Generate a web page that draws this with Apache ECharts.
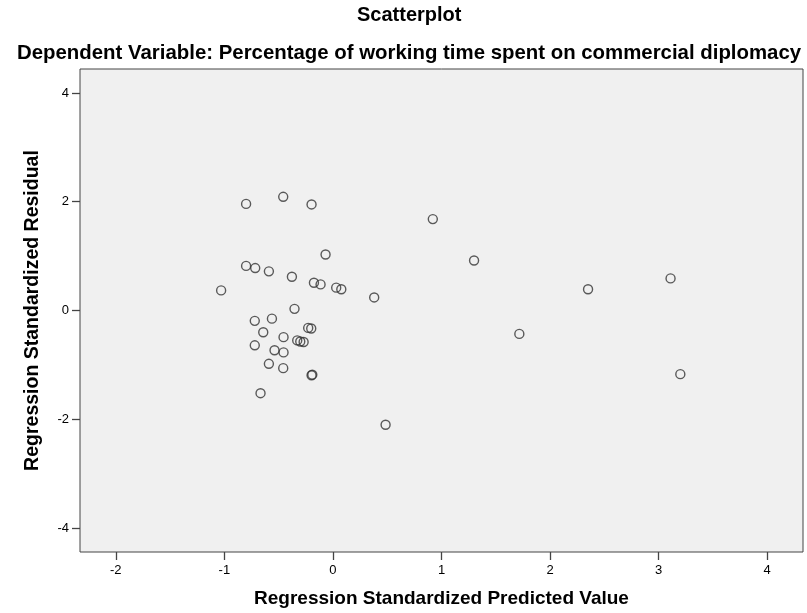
<!DOCTYPE html>
<html>
<head>
<meta charset="utf-8">
<script src="https://cdn.jsdelivr.net/npm/echarts@6/dist/echarts.min.js"></script>
<style>html,body{margin:0;padding:0;background:#fff;}#c{width:807px;height:613px;}</style>
</head>
<body>
<div id="c"></div>
<script>
const predicted = [-0.80,-0.458,-0.197,-0.068,-0.80,-0.716,-0.59,-0.378,-0.175,-0.114,0.03,0.077,-1.03,0.38,-0.354,
  -0.72,-0.562,-0.642,-0.455,-0.228,-0.20,-0.329,-0.301,-0.27,-0.72,-0.538,-0.455,-0.59,-0.458,-0.197,-0.19,-0.667,
  0.92,1.30,1.717,0.485,2.35,3.11,3.20];
const residual = [1.96,2.09,1.95,1.03,0.82,0.78,0.72,0.62,0.51,0.48,0.42,0.39,0.37,0.24,0.03,
  -0.19,-0.15,-0.40,-0.49,-0.32,-0.33,-0.55,-0.57,-0.58,-0.64,-0.73,-0.77,-0.98,-1.06,-1.19,-1.18,-1.52,
  1.68,0.92,-0.43,-2.10,0.39,0.59,-1.17];
const xTicks = [-2,-1,0,1,2,3,4];
const yTicks = [-4,-2,0,2,4];
const titleText = 'Scatterplot';
const subtitleText = 'Dependent Variable: Percentage of working time spent on commercial diplomacy';
const xName = 'Regression Standardized Predicted Value';
const yName = 'Regression Standardized Residual';

const points = predicted.map((v,i)=>[v, residual[i]]);
const chart = echarts.init(document.getElementById('c'));
const font = '"Liberation Sans", Arial, sans-serif';
chart.setOption({
  animation:false,
  backgroundColor:'#ffffff',
  title:[
    {text:titleText, left:357, top:5, padding:0, textStyle:{fontFamily:font, fontSize:20, fontWeight:'bold', color:'#000'}},
    {text:subtitleText, left:17, top:43, padding:0, textStyle:{fontFamily:font, fontSize:20.4, fontWeight:'bold', color:'#000'}}
  ],
  grid:{left:80, right:4, top:69, bottom:60, show:true, backgroundColor:'#F0F0F0', borderColor:'#444', borderWidth:1},
  xAxis:{
    type:'value', min:-2.33, max:4.33,
    name:xName, nameLocation:'middle', nameGap:37,
    nameTextStyle:{fontFamily:font, fontSize:19, fontWeight:'bold', color:'#000'},
    axisLine:{show:false, onZero:false},
    axisTick:{show:true, length:8, customValues:xTicks, lineStyle:{color:'#444', width:1.3}},
    axisLabel:{customValues:xTicks, fontFamily:font, fontSize:13, color:'#000', margin:12},
    splitLine:{show:false}
  },
  yAxis:{
    type:'value', min:-4.44, max:4.44,
    name:yName, nameLocation:'middle', nameGap:37, nameRotate:90,
    nameTextStyle:{fontFamily:font, fontSize:19.5, fontWeight:'bold', color:'#000'},
    axisLine:{show:false, onZero:false},
    axisTick:{show:true, length:8, customValues:yTicks, lineStyle:{color:'#444', width:1.3}},
    axisLabel:{customValues:yTicks, fontFamily:font, fontSize:13, color:'#000', margin:11},
    splitLine:{show:false}
  },
  series:[{
    type:'scatter',
    data:points,
    symbol:'circle',
    symbolSize:9,
    itemStyle:{color:'rgba(0,0,0,0)', borderColor:'#333', borderWidth:1.4}
  }]
});
</script>
</body>
</html>
